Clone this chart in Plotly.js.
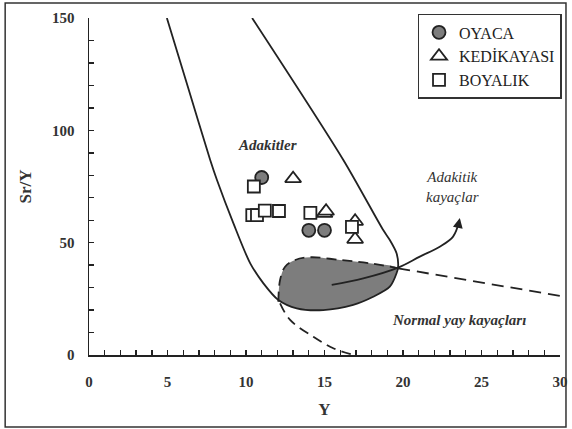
<!DOCTYPE html>
<html>
<head>
<meta charset="utf-8">
<script src="https://cdn.plot.ly/plotly-3.0.1.min.js"></script>
<style>html,body{margin:0;padding:0;background:#fff;}#chart{width:572px;height:429px;}</style>
</head>
<body>
<div id="chart"></div>
<script>
// Sample data
var oyacaX = [11.0, 14.0, 15.0];
var oyacaY = [79, 55.5, 55.5];
var kediX = [13.0, 15.0, 15.1, 16.95, 16.95];
var kediY = [78.5, 63, 64, 59.5, 51.5];
var boyaX = [10.5, 10.4, 10.7, 11.2, 12.1, 14.1, 16.75];
var boyaY = [75, 62.3, 62.3, 64.3, 64.1, 63.3, 57];

// Tick positions and labels
var xTickVals = [0,1,2,3,4,5,6,7,8,9,10,11,12,13,14,15,16,17,18,19,20,21,22,23,24,25,26,27,28,29,30];
var xTickText = ['0','','','','','5','','','','','10','','','','','15','','','','','20','','','','','25','','','','','30'];
var yTickVals = [0,10,20,30,40,50,60,70,80,90,100,110,120,130,140,150];
var yTickText = ['0','','','','','50','','','','','100','','','','','150'];

// Field boundaries
var adakiteX = [4.96, 6.32, 7.72, 8.15, 9.20, 10.27, 11.11, 12.06, 13.23, 14.92, 16.83, 18.10, 19.16, 19.59, 19.69, 19.59, 19.16, 18.74, 16.20, 10.39];
var adakiteY = [150, 118.8, 86.8, 77.9, 58.6, 40.8, 31.9, 24.5, 20.8, 20.0, 22.3, 25.9, 30.4, 36.4, 39.3, 45.3, 51.2, 55.6, 86.8, 150];

var grayTopX = [12.06, 12.17, 12.49, 13.13, 14.08, 15.99, 17.89, 19.69];
var grayTopY = [23.7, 33.4, 39.3, 42.3, 43.5, 42.3, 40.8, 38.6];
var grayBotX = [19.59, 19.16, 18.10, 16.83, 14.92, 13.23, 12.06];
var grayBotY = [36.4, 30.4, 25.9, 22.3, 20.0, 20.8, 24.0];

var normalX = [19.69, 30.0];
var normalY = [38.6, 26.3];

var lowerX = [12.17, 12.81, 14.29, 15.56, 16.85];
var lowerY = [23.0, 15.6, 8.1, 3.0, 0];

var arrowX = [15.46, 17.47, 19.69, 21.07, 22.34, 23.19, 23.58];
var arrowY = [31.2, 34.1, 38.9, 43.8, 48.2, 52.7, 59.5];

var serif = "'Liberation Serif', 'Times New Roman', Times, 'DejaVu Serif', serif";
var ink = '#222';

var traces = [
  {x: grayTopX.concat(grayBotX), y: grayTopY.concat(grayBotY), mode: 'lines', fill: 'toself',
   fillcolor: '#7d7d7d', line: {width: 0, shape: 'spline'}, showlegend: false, hoverinfo: 'skip'},
  {x: adakiteX, y: adakiteY, mode: 'lines', line: {color: ink, width: 1.8, shape: 'spline', smoothing: 0.8},
   showlegend: false, hoverinfo: 'skip'},
  {x: grayTopX, y: grayTopY, mode: 'lines', line: {color: ink, width: 1.8, dash: '10px,6px', shape: 'spline'},
   showlegend: false, hoverinfo: 'skip'},
  {x: normalX, y: normalY, mode: 'lines', line: {color: ink, width: 1.8, dash: '12px,7px'},
   showlegend: false, hoverinfo: 'skip'},
  {x: lowerX, y: lowerY, mode: 'lines', line: {color: ink, width: 1.8, dash: '10px,6px', shape: 'spline'},
   showlegend: false, hoverinfo: 'skip'},
  {x: arrowX, y: arrowY, mode: 'lines', line: {color: ink, width: 1.8, shape: 'spline'},
   showlegend: false, hoverinfo: 'skip'},
  {x: oyacaX, y: oyacaY, mode: 'markers', name: 'OYACA',
   marker: {symbol: 'circle', size: 13, color: '#7d7d7d', line: {color: ink, width: 1.8}}},
  {x: kediX, y: kediY, mode: 'markers', name: 'KEDİKAYASI',
   marker: {symbol: 'triangle-up', size: 14, color: 'rgba(255,255,255,1)', line: {color: ink, width: 1.8}}},
  {x: boyaX, y: boyaY, mode: 'markers', name: 'BOYALIK',
   marker: {symbol: 'square', size: 12, color: '#fff', line: {color: ink, width: 1.8}}}
];

var layout = {
  width: 572, height: 429,
  margin: {l: 89, r: 11, t: 18, b: 74},
  paper_bgcolor: '#fff', plot_bgcolor: '#fff',
  font: {family: serif, color: '#333'},
  xaxis: {
    range: [0, 30], tickmode: 'array', tickvals: xTickVals, ticktext: xTickText,
    showgrid: false, zeroline: false,
    showline: true, linecolor: ink, linewidth: 1.5,
    ticks: 'inside', ticklen: 5, tickwidth: 1.4, tickcolor: ink,
    tickfont: {family: serif, size: 15, color: '#333', weight: 'bold'},
    ticklabelstandoff: 12,
    title: {text: 'Y', font: {family: serif, size: 17, color: '#333', weight: 'bold'}, standoff: 14}
  },
  yaxis: {
    range: [0, 150], tickmode: 'array', tickvals: yTickVals, ticktext: yTickText,
    showgrid: false, zeroline: false,
    showline: true, linecolor: ink, linewidth: 1.5,
    ticks: 'inside', ticklen: 5, tickwidth: 1.4, tickcolor: ink,
    tickfont: {family: serif, size: 15, color: '#333', weight: 'bold'},
    ticklabelstandoff: 10,
    title: {text: 'Sr/Y', font: {family: serif, size: 17, color: '#333', weight: 'bold'}, standoff: 16}
  },
  legend: {
    x: 0.696, y: 1.012, xanchor: 'left', yanchor: 'top',
    bordercolor: '#333', borderwidth: 1.5, bgcolor: '#fff',
    font: {family: serif, size: 16, color: '#222'},
    itemwidth: 30, tracegroupgap: 0
  },
  shapes: [
    {type: 'rect', xref: 'paper', yref: 'paper', x0: -0.178, x1: 1.0127, y0: -0.2136, y1: 1.0445,
     line: {color: '#333', width: 1.5}}
  ],
  annotations: [
    {x: 11.38, y: 93.5, xref: 'x', yref: 'y', text: '<b><i>Adakitler</i></b>', showarrow: false,
     font: {family: serif, size: 15, color: '#333'}},
    {x: 23.14, y: 74.8, xref: 'x', yref: 'y', text: '<i>Adakitik<br>kayaçlar</i>', showarrow: false,
     font: {family: serif, size: 15, color: '#333'}},
    {x: 23.55, y: 15.6, xref: 'x', yref: 'y', text: '<b><i>Normal yay kayaçları</i></b>', showarrow: false,
     font: {family: serif, size: 15, color: '#333'}},
    {x: 23.62, y: 61, ax: 23.5, ay: 57, xref: 'x', yref: 'y', axref: 'x', ayref: 'y', text: '',
     showarrow: true, arrowhead: 2, arrowsize: 1.1, arrowwidth: 1.8, arrowcolor: ink}
  ]
};

Plotly.newPlot('chart', traces, layout, {staticPlot: true, displayModeBar: false});
</script>
</body>
</html>
